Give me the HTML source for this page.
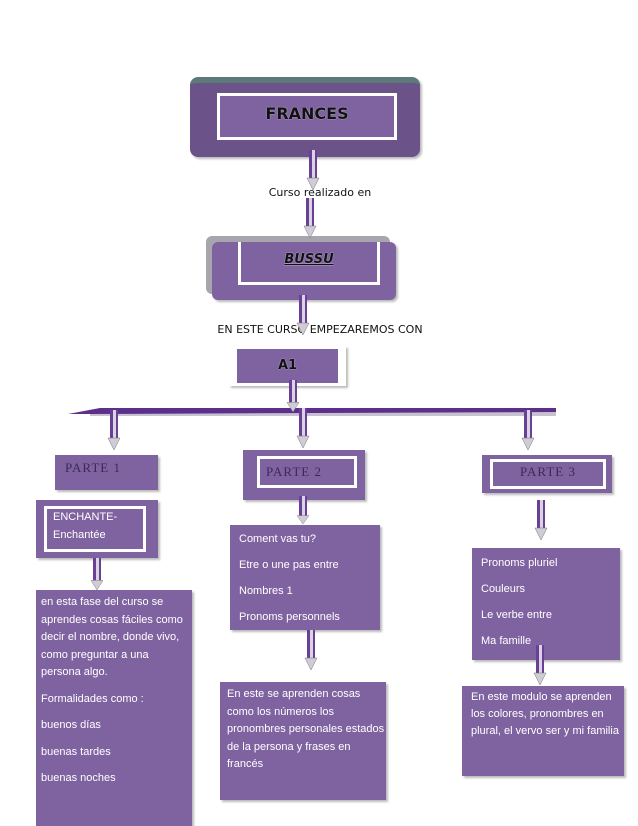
<!DOCTYPE html>
<html><head><meta charset="utf-8"><style>
body{margin:0;width:638px;height:826px;background:#fff;position:relative;overflow:hidden;font-family:"Liberation Sans",sans-serif}
.b{position:absolute;background:#7f63a1;box-shadow:2px 2px 2px #bbb;box-sizing:border-box}
.w{border:3px solid #fff}
.t{position:absolute;color:#fff;font-size:11px;line-height:26px}
.cap{position:absolute;font-family:"DejaVu Sans",sans-serif;font-weight:bold;color:#111;text-shadow:0 0 1px #fff}
.ser{position:absolute;font-family:"Liberation Serif",serif;color:#3a2a55;font-size:13px;letter-spacing:1px}
svg{position:absolute;left:0;top:0}
</style></head><body>
<div class="b" style="left:190px;top:77px;width:230px;height:80px;border-radius:8px;background:#6b5288;border-top:6px solid #5d7a7a"></div>
<div class="b w" style="left:217px;top:93px;width:180px;height:47px;box-shadow:none"></div>
<div class="cap" style="left:217px;top:104px;width:180px;text-align:center;font-size:16px">FRANCES</div>
<div class="cap" style="left:250px;top:186px;width:140px;text-align:center;font-size:11px;font-weight:normal">Curso realizado en</div>
<div class="b" style="left:206px;top:236px;width:184px;height:58px;background:#a8a6ad;border-radius:6px;box-shadow:none"></div>
<div class="b" style="left:212px;top:242px;width:184px;height:58px;border-radius:6px"></div>
<div class="b w" style="left:238px;top:242px;width:142px;height:43px;box-shadow:none;border-top:none"></div>
<div class="cap" style="left:238px;top:252px;width:142px;text-align:center;font-size:13px;font-style:italic;text-decoration:underline">BUSSU</div>
<div class="cap" style="left:205px;top:323px;width:230px;text-align:center;font-size:11px;font-weight:normal">EN ESTE CURSO EMPEZAREMOS CON</div>
<div class="b w" style="left:229px;top:346px;width:117px;height:40px;border-left:8px solid #fff;border-right:8px solid #fff"></div>
<div class="cap" style="left:229px;top:358px;width:117px;text-align:center;font-size:13px">A1</div>

<div class="b" style="left:55px;top:455px;width:103px;height:35px"></div>
<div class="ser" style="left:65px;top:460px">PARTE 1</div>
<div class="b" style="left:243px;top:450px;width:122px;height:50px"></div>
<div class="b w" style="left:257px;top:456px;width:100px;height:32px;box-shadow:none"></div>
<div class="ser" style="left:266px;top:464px">PARTE 2</div>
<div class="b" style="left:482px;top:455px;width:130px;height:38px"></div>
<div class="b w" style="left:490px;top:459px;width:116px;height:30px;box-shadow:none"></div>
<div class="ser" style="left:520px;top:464px">PARTE 3</div>

<div class="b" style="left:36px;top:500px;width:122px;height:58px"></div>
<div class="b w" style="left:44px;top:506px;width:102px;height:46px;box-shadow:none"></div>
<div class="t" style="left:53px;top:508px;line-height:18px;font-size:11px">ENCHANTE-<br>Enchantée</div>

<div class="b" style="left:36px;top:590px;width:156px;height:236px"></div>
<div class="t" style="left:41px;top:594px;line-height:17.5px">en esta fase del curso se<br>aprendes cosas fáciles como<br>decir el nombre, donde vivo,<br>como preguntar a una<br>persona algo.<div style="height:9px"></div>Formalidades como :<div style="height:9px"></div>buenos días<div style="height:9px"></div>buenas tardes<div style="height:9px"></div>buenas noches</div>

<div class="b" style="left:230px;top:525px;width:150px;height:105px"></div>
<div class="t" style="left:239px;top:526px">Coment vas tu?<br>Etre o une pas entre<br>Nombres 1<br>Pronoms personnels</div>
<div class="b" style="left:220px;top:682px;width:166px;height:118px"></div>
<div class="t" style="left:227px;top:686px;line-height:17.5px">En este se aprenden cosas<br>como los números los<br>pronombres personales estados<br>de la persona  y frases en<br>francés</div>

<div class="b" style="left:472px;top:548px;width:148px;height:112px"></div>
<div class="t" style="left:481px;top:550px">Pronoms pluriel<br>Couleurs<br>Le verbe entre<br>Ma famille</div>
<div class="b" style="left:462px;top:686px;width:162px;height:90px"></div>
<div class="t" style="left:471px;top:689px;line-height:17px">En este modulo se aprenden<br>los colores, pronombres en<br>plural, el vervo ser y mi familia</div>

<svg width="638" height="826">
<defs><g id="ar"><rect x="-4" y="0" width="8" height="30" fill="#6a3f97"/><rect x="-1" y="0" width="3" height="30" fill="#d9d4e0"/><polygon points="-6,28 6,28 0,40" fill="#d0ccd6" stroke="#777" stroke-width=".5"/></g></defs>
<polygon points="68,414 100,408 556,408 556,414" fill="#5b2f8a"/>
<polygon points="90,414 556,412 556,416 90,416" fill="#c8c2d0"/>
<use href="#ar" transform="translate(313,150)"/>
<use href="#ar" transform="translate(310,198)"/>
<use href="#ar" transform="translate(303,295)"/>
<use href="#ar" transform="translate(293,380) scale(1,0.8)"/>
<use href="#ar" transform="translate(114,410)"/>
<use href="#ar" transform="translate(303,408)"/>
<use href="#ar" transform="translate(528,410)"/>
<use href="#ar" transform="translate(97,558) scale(1,0.8)"/>
<use href="#ar" transform="translate(303,496) scale(1,0.7)"/>
<use href="#ar" transform="translate(311,630)"/>
<use href="#ar" transform="translate(541,500)"/>
<use href="#ar" transform="translate(540,645)"/>
</svg>
</body></html>
